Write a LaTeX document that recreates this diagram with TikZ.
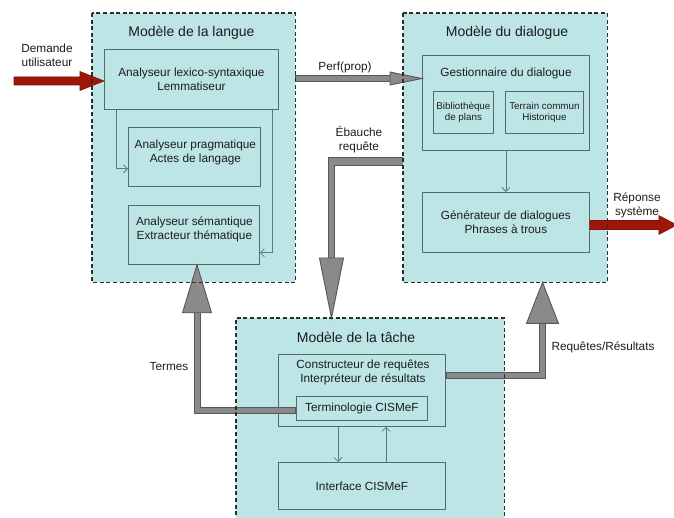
\documentclass[tikz,border=0pt]{standalone}
\usepackage{fontspec}
\setmainfont{Liberation Sans}
\usetikzlibrary{arrows.meta,calc}
\definecolor{boxfill}{RGB}{189,229,230}
\definecolor{boxline}{RGB}{82,108,108}
\definecolor{thinc}{RGB}{95,122,122}
\definecolor{gfill}{RGB}{138,138,138}
\definecolor{gline}{RGB}{88,88,88}
\definecolor{rfill}{RGB}{158,22,8}
\definecolor{rline}{RGB}{125,18,8}
\definecolor{dashc}{RGB}{45,45,45}
\definecolor{txt}{RGB}{28,28,28}
\begin{document}
\begin{tikzpicture}[x=1pt,y=-1pt,
  every node/.style={text=txt, font=\fontsize{11.8}{14}\selectfont, inner sep=0pt, align=center},
  outer/.style={fill=boxfill, draw=none, anchor=north west},
  outerline/.style={draw=dashc, line width=1.2pt, dash pattern=on 4pt off 2.6pt},
  inbox/.style={draw=boxline, fill=boxfill, line width=0.8pt, anchor=north west},
  small/.style={font=\fontsize{9.8}{11}\selectfont},
  title/.style={font=\fontsize{14}{16}\selectfont},
  thinarrow/.style={draw=thinc, line width=0.8pt, -{Straight Barb[length=4pt,width=8pt]}},
  gout/.style={draw=gline, line width=7pt},
  gin/.style={draw=gfill, line width=5pt},
  ghead/.style={fill=gfill, draw=gline, line width=0.9pt, line join=miter},
  rarrow/.style={fill=rfill, draw=rline, line width=0.6pt, line join=miter}
]
\useasboundingbox (0,0) rectangle (674,518);
\clip (0,0) rectangle (674,518);

% outer model boxes (fills)
\node[outer, minimum width=203pt, minimum height=269pt] (langue) at (92,13) {};
\node[outer, minimum width=204pt, minimum height=269pt] (dial) at (403,13) {};
\node[outer, minimum width=268pt, minimum height=210pt] (tache) at (236,318) {};

% titles
\node[title] (tlangue) at (191.5,33) {Modèle de la langue};
\node[title] (tdial) at (507,32.5) {Modèle du dialogue};
\node[title] (ttache) at (356,337) {Modèle de la tâche};

% inner boxes: langue
\node[inbox, minimum width=174pt, minimum height=60pt] (lex) at (104,49) {Analyseur lexico-syntaxique\\Lemmatiseur};
\node[inbox, minimum width=132pt, minimum height=59pt] (prag) at (128,127) {};
\node (pragtxt) at ($(prag.center)+(1,-4.5)$) {Analyseur pragmatique\\Actes de langage};
\node[inbox, minimum width=131pt, minimum height=59pt] (sem) at (128,205) {};
\node (semtxt) at ($(sem.center)+(0.5,-5.5)$) {Analyseur sémantique\\Extracteur thématique};

% inner boxes: dialogue
\node[inbox, minimum width=167pt, minimum height=95pt] (gest) at (422,55) {};
\node (gesttxt) at (506,73) {Gestionnaire du dialogue};
\node[inbox, small, minimum width=60pt, minimum height=42pt] (biblio) at (433,91) {Bibliothèque\\de plans};
\node[inbox, small, minimum width=78pt, minimum height=42pt] (terrain) at (505,91) {Terrain commun\\Historique};
\node[inbox, minimum width=167pt, minimum height=60pt] (gen) at (422,192) {Générateur de dialogues\\Phrases à trous};

% inner boxes: tâche
\node[inbox, minimum width=167pt, minimum height=72pt] (constr) at (278,354) {};
\node (constrtxt) at (363,372.5) {Constructeur de requêtes\\Interpréteur de résultats};
\node[inbox, minimum width=131pt, minimum height=24pt] (term) at (296,396) {Terminologie CISMeF};
\node[inbox, minimum width=167pt, minimum height=47pt] (iface) at (278,462) {Interface CISMeF};

% thin arrows
\draw[thinarrow] ($(lex.south west)+(12,0)$) |- ($(prag.south west)+(0,-18)$);
\draw[thinarrow] ($(lex.south east)+(-6,0)$) |- ($(sem.south east)+(0,-12)$);
\draw[thinarrow] (gest.south) -- (gen.north);
\draw[thinarrow] ($(constr.south west)+(60,0)$) -- ($(iface.north west)+(60,0)$);
\draw[thinarrow] ($(iface.north west)+(108,0)$) -- ($(constr.south west)+(108,0)$);

% helper coordinates
\coordinate (yperf) at (0,78.5);
\coordinate (yeb) at (0,162);
\coordinate (xeb) at (331.5,0);
\coordinate (ytm) at (0,410.5);
\coordinate (xtm) at (197,0);
\coordinate (yrq) at (0,375);
\coordinate (xrq) at (542.5,0);
\coordinate (ydm) at (0,81);
\coordinate (yrp) at (0,225);

% Perf(prop)
\coordinate (p0) at (langue.east |- yperf);
\coordinate (ptip) at (gest.west |- yperf);
\draw[gout] (p0) -- ($(ptip)+(-30,0)$);
\draw[gin] ($(p0)+(1,0)$) -- ($(ptip)+(-30,0)$);
\filldraw[ghead] (ptip) -- ($(ptip)+(-32,-6.5)$) -- ($(ptip)+(-32,6.5)$) -- cycle;
\node (perf) at (345,67) {Perf(prop)};

% Ebauche requete
\coordinate (e0) at (dial.west |- yeb);
\coordinate (ec) at (xeb |- yeb);
\coordinate (etip) at (xeb |- tache.north);
\draw[draw=gline, line width=9pt] (e0) -- ($(ec)+(-3.5,0)$);
\draw[gout] ($(ec)+(0,-4.5)$) -- ($(etip)+(0,-59)$);
\draw[draw=gfill, line width=7pt] (e0) -- ($(ec)+(-2.5,0)$);
\draw[gin] ($(ec)+(0,-3.5)$) -- ($(etip)+(0,-59)$);
\filldraw[ghead] (etip) -- ($(etip)+(-12,-60)$) -- ($(etip)+(12,-60)$) -- cycle;
\node (eb) at (359,139.5) {Ébauche\\requête};

% Termes
\coordinate (t0) at (term.west |- ytm);
\coordinate (tc) at (xtm |- ytm);
\coordinate (ttip) at (xtm |- sem.south);
\draw[gout, line join=miter] (t0) -- (tc) -- ($(ttip)+(0,47)$);
\draw[gin, line join=miter] ($(t0)+(-1,0)$) -- (tc) -- ($(ttip)+(0,47)$);
\filldraw[ghead] (ttip) -- ($(ttip)+(-14.5,48)$) -- ($(ttip)+(14.5,48)$) -- cycle;
\node (termes) at (169,366) {Termes};

% Requetes/Resultats
\coordinate (q0) at (constr.east |- yrq);
\coordinate (qc) at (xrq |- yrq);
\coordinate (qtip) at (xrq |- dial.south);
\draw[gout, line join=miter] (q0) -- (qc) -- ($(qtip)+(0,40)$);
\draw[gin, line join=miter] ($(q0)+(1,0)$) -- (qc) -- ($(qtip)+(0,40)$);
\filldraw[ghead] (qtip) -- ($(qtip)+(-16,41)$) -- ($(qtip)+(16,41)$) -- cycle;
\node (reqres) at (603,347) {Requêtes/Résultats};

% Demande utilisateur (red)
\coordinate (dtip) at (lex.west |- ydm);
\filldraw[rarrow] ($(dtip)+(-90,-4)$) -- ($(dtip)+(-24,-4)$) -- ($(dtip)+(-24,-9.5)$) -- (dtip)
  -- ($(dtip)+(-24,9.5)$) -- ($(dtip)+(-24,4)$) -- ($(dtip)+(-90,4)$) -- cycle;
\node (demande) at (47,55.5) {Demande\\utilisateur};

% Reponse systeme (red)
\coordinate (r0) at (gen.east |- yrp);
\filldraw[rarrow] ($(r0)+(0,-4.5)$) -- ($(r0)+(69,-4.5)$) -- ($(r0)+(69,-9.5)$) -- ($(r0)+(87,0)$)
  -- ($(r0)+(69,9.5)$) -- ($(r0)+(69,4.5)$) -- ($(r0)+(0,4.5)$) -- cycle;
\node (reponse) at (637,205) {Réponse\\système};

% dashed borders on top
\draw[outerline] (langue.north west) rectangle (langue.south east);
\draw[outerline] (dial.north west) rectangle (dial.south east);
\draw[outerline] (tache.south west) -- (tache.north west) -- (tache.north east) -- (tache.south east);
\end{tikzpicture}
\end{document}
